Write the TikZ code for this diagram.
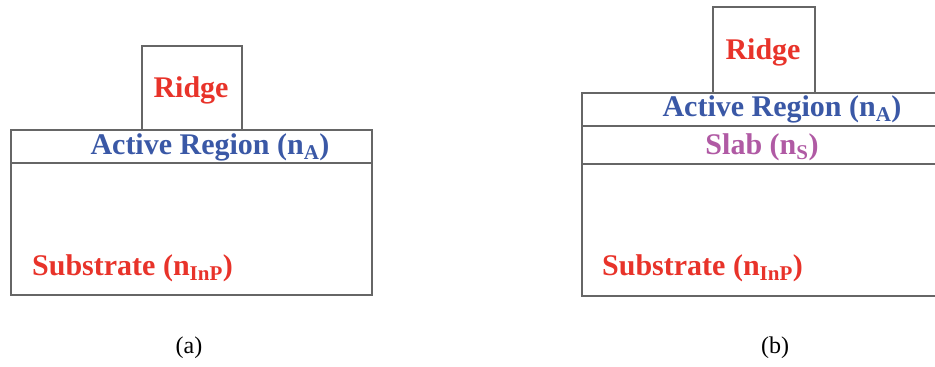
\documentclass[tikz,border=0pt]{standalone}
\usepackage{fontspec}
\setmainfont{Liberation Serif}
\definecolor{wall}{HTML}{666666}
\definecolor{redtxt}{HTML}{E8332A}
\definecolor{bluetxt}{HTML}{3A58A6}
\definecolor{purptxt}{HTML}{B05AA4}
\begin{document}
\begin{tikzpicture}[x=1pt,y=-1pt,
  wallline/.style={draw=wall,line width=2.2pt},
  lbl/.style={inner sep=0pt,font=\fontsize{30}{34}\selectfont\bfseries},
  figcap/.style={inner sep=0pt,font=\fontsize{24}{28}\selectfont}]
\useasboundingbox (0,0) rectangle (935,367);
% (a)
\draw[wallline] (142,130) -- (142,46) -- (242,46) -- (242,130);
\draw[wallline] (11,130) rectangle (372,295);
\draw[wallline] (11,163) -- (372,163);
\node[lbl,text=redtxt] (ridgeA) at (191,90) {Ridge};
\node[lbl,text=bluetxt] (activeA) at (210,147) {Active Region (n\textsubscript{A})};
\node[lbl,text=redtxt,anchor=west] (subA) at (32,268) {Substrate (n\textsubscript{InP})};
\node[figcap] (capA) at (189,348) {(a)};
% (b)
\begin{scope}
\clip (570,0) rectangle (935,367);
\draw[wallline] (713,93) -- (713,7) -- (815,7) -- (815,93);
\draw[wallline] (945,93) -- (582,93) -- (582,296) -- (945,296);
\draw[wallline] (582,126) -- (945,126);
\draw[wallline] (582,164) -- (945,164);
\end{scope}
\node[lbl,text=redtxt] (ridgeB) at (763,52) {Ridge};
\node[lbl,text=bluetxt] (activeB) at (782,109) {Active Region (n\textsubscript{A})};
\node[lbl,text=purptxt] (slabB) at (762,147) {Slab (n\textsubscript{S})};
\node[lbl,text=redtxt,anchor=west] (subB) at (602,268) {Substrate (n\textsubscript{InP})};
\node[figcap] (capB) at (775,348) {(b)};
\end{tikzpicture}
\end{document}
